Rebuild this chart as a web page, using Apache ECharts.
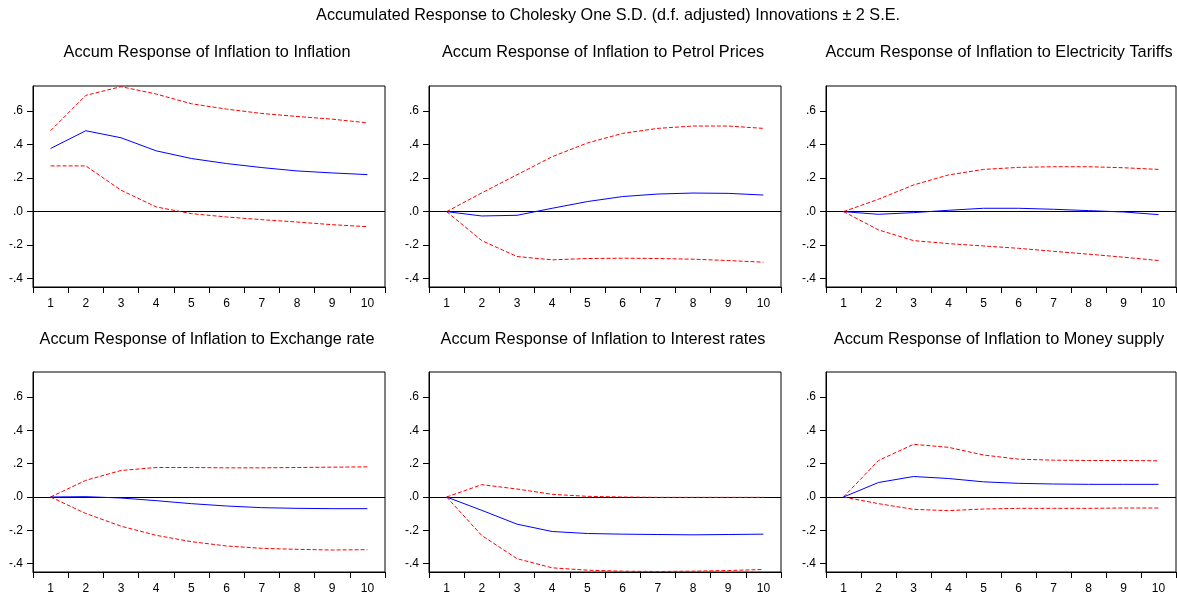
<!DOCTYPE html>
<html>
<head>
<meta charset="utf-8">
<script src="https://cdn.jsdelivr.net/npm/echarts@6/dist/echarts.min.js"></script>
<style>
html,body{margin:0;padding:0;background:#fff;}
#chart{width:1177px;height:595px;}
</style>
</head>
<body>
<div id="chart"></div>
<script>
// ---- data ----
const mainTitle = 'Accumulated Response to Cholesky One S.D. (d.f. adjusted) Innovations \u00b1 2 S.E.';
const panelTitles = [
  'Accum Response of Inflation to Inflation',
  'Accum Response of Inflation to Petrol Prices',
  'Accum Response of Inflation to Electricity Tariffs',
  'Accum Response of Inflation to Exchange rate',
  'Accum Response of Inflation to Interest rates',
  'Accum Response of Inflation to Money supply'
];
const periods = ['1','2','3','4','5','6','7','8','9','10'];
const yTicks = [-0.4, -0.2, 0, 0.2, 0.4, 0.6];

const inflationResp  = [0.377, 0.483, 0.441, 0.363, 0.317, 0.287, 0.263, 0.243, 0.231, 0.221];
const inflationUpper = [0.483, 0.694, 0.746, 0.702, 0.644, 0.612, 0.586, 0.568, 0.552, 0.530];
const inflationLower = [0.273, 0.273, 0.128, 0.028, -0.012, -0.032, -0.048, -0.062, -0.078, -0.090];

const petrolResp  = [0, -0.026, -0.022, 0.020, 0.060, 0.090, 0.105, 0.111, 0.109, 0.099];
const petrolUpper = [0, 0.112, 0.220, 0.328, 0.410, 0.467, 0.497, 0.511, 0.511, 0.497];
const petrolLower = [0, -0.173, -0.268, -0.288, -0.280, -0.278, -0.280, -0.284, -0.292, -0.302];

const electricityResp  = [0, -0.016, -0.006, 0.008, 0.020, 0.020, 0.014, 0.006, -0.002, -0.018];
const electricityUpper = [0, 0.074, 0.159, 0.219, 0.252, 0.264, 0.268, 0.268, 0.262, 0.252];
const electricityLower = [0, -0.109, -0.173, -0.191, -0.205, -0.219, -0.237, -0.254, -0.272, -0.292];

const exchangeResp  = [0, 0.002, -0.006, -0.022, -0.040, -0.054, -0.064, -0.068, -0.070, -0.070];
const exchangeUpper = [0, 0.100, 0.159, 0.177, 0.177, 0.175, 0.175, 0.177, 0.179, 0.181];
const exchangeLower = [0, -0.099, -0.175, -0.230, -0.268, -0.294, -0.308, -0.314, -0.318, -0.316];

const interestResp  = [0, -0.080, -0.163, -0.207, -0.219, -0.223, -0.225, -0.227, -0.225, -0.223];
const interestUpper = [0, 0.074, 0.048, 0.016, 0.004, 0.000, -0.002, -0.002, -0.002, -0.002];
const interestLower = [0, -0.231, -0.370, -0.425, -0.439, -0.445, -0.447, -0.445, -0.441, -0.435];

const moneyResp  = [0, 0.087, 0.123, 0.111, 0.091, 0.082, 0.078, 0.076, 0.076, 0.076];
const moneyUpper = [0, 0.219, 0.316, 0.298, 0.252, 0.227, 0.221, 0.219, 0.219, 0.217];
const moneyLower = [0, -0.040, -0.074, -0.082, -0.072, -0.068, -0.068, -0.068, -0.066, -0.066];

const panels = [
  [inflationResp, inflationUpper, inflationLower],
  [petrolResp, petrolUpper, petrolLower],
  [electricityResp, electricityUpper, electricityLower],
  [exchangeResp, exchangeUpper, exchangeLower],
  [interestResp, interestUpper, interestLower],
  [moneyResp, moneyUpper, moneyLower]
];

// ---- layout ----
const FONT = '"Liberation Sans", Arial, sans-serif';
const boxes = [
  {left: 33,  top: 86,  width: 352, height: 201},
  {left: 429, top: 86,  width: 352, height: 201},
  {left: 826, top: 86,  width: 350, height: 201},
  {left: 33,  top: 372, width: 352, height: 200},
  {left: 429, top: 372, width: 352, height: 200},
  {left: 826, top: 372, width: 350, height: 200}
];
const titleTops = [45, 45, 45, 332, 332, 332];

function fmt(v) {
  const s = Math.abs(v).toFixed(1).replace(/^0/, '');
  return (v < -1e-9 ? '-' : '') + s;
}

const grid = [], xAxis = [], yAxis = [], series = [], title = [];
title.push({
  text: mainTitle, left: 608, top: 8, textAlign: 'center', padding: 0,
  textStyle: {fontFamily: FONT, fontSize: 16.2, fontWeight: 'normal', color: '#000'}
});
boxes.forEach((b, i) => {
  grid.push({left: b.left, top: b.top, width: b.width, height: b.height,
    show: true, borderColor: '#000', borderWidth: 1, backgroundColor: 'transparent', containLabel: false});
  title.push({
    text: panelTitles[i], left: b.left + b.width / 2 - 2, top: titleTops[i], textAlign: 'center', padding: 0,
    textStyle: {fontFamily: FONT, fontSize: 16.3, fontWeight: 'normal', color: '#000'}
  });
  xAxis.push({
    type: 'category', gridIndex: i, data: periods, boundaryGap: true,
    axisLine: {show: true, onZero: false, lineStyle: {color: '#000', width: 1}},
    axisTick: {show: true, inside: false, length: 6, lineStyle: {color: '#000'}},
    axisLabel: {show: true, margin: 11, color: '#000', fontFamily: FONT, fontSize: 12, interval: 0},
    splitLine: {show: false}
  });
  yAxis.push({
    type: 'value', gridIndex: i, min: -0.45, max: 0.75,
    axisLine: {show: true, onZero: false, lineStyle: {color: '#000', width: 1}},
    axisTick: {show: true, inside: false, length: 6, customValues: yTicks, lineStyle: {color: '#000'}},
    axisLabel: {show: true, margin: 10, color: '#000', fontFamily: FONT, fontSize: 12,
      customValues: yTicks, formatter: fmt},
    splitLine: {show: false}
  });
  const [resp, up, lo] = panels[i];
  series.push({
    type: 'line', xAxisIndex: i, yAxisIndex: i, data: up, showSymbol: false, symbol: 'none',
    lineStyle: {color: '#ff0000', width: 1, type: [4, 2]}, silent: true, z: 3
  });
  series.push({
    type: 'line', xAxisIndex: i, yAxisIndex: i, data: lo, showSymbol: false, symbol: 'none',
    lineStyle: {color: '#ff0000', width: 1, type: [4, 2]}, silent: true, z: 3
  });
  series.push({
    type: 'line', xAxisIndex: i, yAxisIndex: i, data: resp, showSymbol: false, symbol: 'none',
    lineStyle: {color: '#0000ff', width: 1, type: 'solid'}, silent: true, z: 4,
    markLine: {
      silent: true, symbol: ['none', 'none'], label: {show: false},
      lineStyle: {color: '#000', width: 1, type: 'solid'},
      data: [{yAxis: 0}], animation: false, z: 2
    }
  });
});

const chart = echarts.init(document.getElementById('chart'), null, {renderer: 'canvas'});
chart.setOption({
  animation: false,
  backgroundColor: '#fff',
  title, grid, xAxis, yAxis, series
});
</script>
</body>
</html>
